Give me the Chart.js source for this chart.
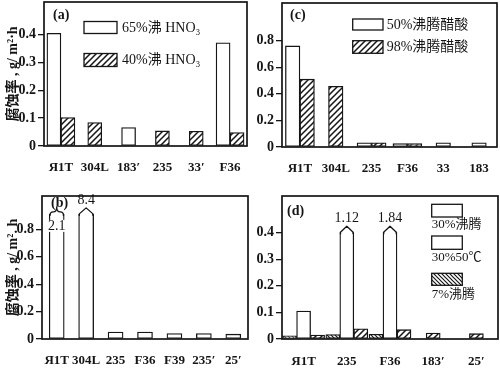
<!DOCTYPE html>
<html><head><meta charset="utf-8">
<script src="https://cdn.jsdelivr.net/npm/chart.js@4.4.1/dist/chart.umd.min.js"></script>
<style>
html,body{margin:0;padding:0;background:#fff;overflow:hidden}
#wrap{position:relative;width:500px;height:373px;background:#fff}
#wrap canvas{position:absolute}
</style></head><body>
<div id="wrap">
<canvas id="cA" width="250" height="186" style="left:0;top:0"></canvas>
<canvas id="cC" width="250" height="186" style="left:250px;top:0"></canvas>
<canvas id="cB" width="250" height="187" style="left:0;top:186px"></canvas>
<canvas id="cD" width="250" height="187" style="left:250px;top:186px"></canvas>
</div>
<script>
// ---------- data ----------
const catsA = ['Я1T', '304L', '183′', '235', '33′', 'F36'];
const hno3_65 = [0.404, null, 0.066, null, null, 0.370];
const hno3_40 = [0.102, 0.084, null, 0.054, 0.053, 0.048];
const ticksA = [0, 0.1, 0.2, 0.3, 0.4];

const catsB = ['Я1T', '304L', '235', 'F36', 'F39', '235′', '25′'];
const rateB = [2.1, 8.4, 0.05, 0.05, 0.04, 0.04, 0.035];
const ticksB = [0, 0.2, 0.4, 0.6, 0.8];

const catsC = ['Я1T', '304L', '235', 'F36', '33', '183'];
const acetic50 = [0.76, null, 0.032, 0.025, 0.032, 0.032];
const acetic98 = [0.51, 0.456, 0.032, 0.025, null, null];
const ticksC = [0, 0.2, 0.4, 0.6, 0.8];

const catsD = ['Я1T', '235', 'F36', '183′', '25′'];
const boil7 = [0.012, 0.017, 0.018, null, null];
const at50C30 = [0.105, 1.12, 1.84, null, null];
const boil30 = [0.015, 0.038, 0.035, 0.022, 0.020];
const ticksD = [0, 0.1, 0.2, 0.3, 0.4];

// ---------- styling ----------
const INK = '#151515';
const SERIF = "'Liberation Serif','Times New Roman','Noto Sans CJK SC',serif";
const tickFont = {family: SERIF, size: 14, weight: 'bold'};
const catFont = {family: SERIF, size: 13, weight: 'bold'};

function hatch(ctx, dir, size, lw) {
  const c = document.createElement('canvas');
  c.width = c.height = size;
  const g = c.getContext('2d');
  g.fillStyle = '#fff'; g.fillRect(0, 0, size, size);
  g.strokeStyle = INK; g.lineWidth = lw;
  g.beginPath();
  if (dir > 0) {
    g.moveTo(-1, size + 1); g.lineTo(size + 1, -1);
    g.moveTo(-size / 2 - 1, size / 2 + 1); g.lineTo(size / 2 + 1, -size / 2 - 1);
    g.moveTo(size / 2 - 1, size * 1.5 + 1); g.lineTo(size * 1.5 + 1, size / 2 - 1);
  } else {
    g.moveTo(-1, -1); g.lineTo(size + 1, size + 1);
    g.moveTo(-size / 2 - 1, size / 2 - 1); g.lineTo(size / 2 + 1, size * 1.5 + 1);
    g.moveTo(size / 2 - 1, -size / 2 - 1); g.lineTo(size * 1.5 + 1, size / 2 + 1);
  }
  g.stroke();
  return ctx.createPattern(c, 'repeat');
}

function drawBreaks(chart, b) {
  const ctx = chart.ctx;
  const bars = chart.getDatasetMeta(b.ds).data;
  ctx.save();
  b.values.forEach((v, i) => {
    if (v == null || v <= b.cap) return;
    const bar = bars[i];
    const p = bar.getProps(['x', 'y', 'width'], true);
    const bw = 1.3;
    const l = p.x - p.width / 2 + bw / 2, r = p.x + p.width / 2 - bw / 2, top = p.y + bw / 2;
    ctx.fillStyle = '#fff';
    ctx.fillRect(l + bw / 2, p.y - 1, r - l - bw, bw + 2);
    ctx.strokeStyle = INK; ctx.lineWidth = bw; ctx.lineJoin = 'round';
    ctx.beginPath();
    const isBrace = b.brace.includes(i);
    if (isBrace) {
      const w = r - l;
      ctx.moveTo(l, top + 1);
      ctx.quadraticCurveTo(l, top - 3, l + w * 0.25, top - 3);
      ctx.quadraticCurveTo(p.x, top - 3, p.x, top - 8);
      ctx.quadraticCurveTo(p.x, top - 3, r - w * 0.25, top - 3);
      ctx.quadraticCurveTo(r, top - 3, r, top + 1);
    } else {
      ctx.moveTo(l, top + 1); ctx.lineTo(l, top - 1);
      ctx.lineTo(p.x, top - 7);
      ctx.lineTo(r, top - 1); ctx.lineTo(r, top + 1);
    }
    ctx.stroke();
    ctx.font = '14px ' + SERIF;
    ctx.textAlign = 'center'; ctx.textBaseline = 'middle';
    const txt = String(v);
    if (isBrace) {
      const tw = ctx.measureText(txt).width;
      ctx.fillStyle = '#fff';
      ctx.fillRect(p.x - tw / 2 - 1, top + 5, tw + 2, 12);
      ctx.fillStyle = INK;
      ctx.fillText(txt, p.x, top + 11);
    } else {
      ctx.fillStyle = INK;
      ctx.fillText(txt, p.x, top - 15);
    }
  });
  ctx.restore();
}

function decor(o, pat) {
  return {
    id: 'decor',
    afterDatasetsDraw(chart) {
      const ctx = chart.ctx, a = chart.chartArea;
      if (o.breaks) drawBreaks(chart, o.breaks);
      ctx.save();
      ctx.strokeStyle = INK; ctx.lineWidth = 1.7;
      ctx.strokeRect(a.left, a.top, a.right - a.left, a.bottom - a.top);
      ctx.restore();
    },
    afterDraw(chart) {
      const ctx = chart.ctx;
      ctx.save();
      ctx.textBaseline = 'middle'; ctx.textAlign = 'left';
      ctx.fillStyle = INK;
      ctx.font = 'bold 14px ' + SERIF;
      ctx.fillText(o.letter, o.letterAt[0], o.letterAt[1]);
      (o.legend || []).forEach(it => {
        const text = it.text || chart.data.datasets[it.ds].label;
        ctx.fillStyle = pat[it.fill];
        ctx.fillRect(it.box[0], it.box[1], it.box[2], it.box[3]);
        ctx.strokeStyle = INK; ctx.lineWidth = 1.3;
        ctx.strokeRect(it.box[0], it.box[1], it.box[2], it.box[3]);
        ctx.fillStyle = INK;
        ctx.font = (it.size || 13) + 'px ' + SERIF;
        ctx.fillText(text, it.at[0], it.at[1]);
      });
      ctx.restore();
    }
  };
}

function makeChart(id, o) {
  const ctx = document.getElementById(id).getContext('2d');
  const pat = {white: '#fff', fwd: hatch(ctx, 1, 6, 1.5), back: hatch(ctx, -1, 4, 1.2)};
  const datasets = o.series.map(s => ({
    label: s.label, data: s.data,
    backgroundColor: pat[s.fill], borderColor: INK, borderWidth: 1.3,
    borderSkipped: false, barThickness: o.barW, skipNull: true
  }));
  return new Chart(ctx, {
    type: 'bar',
    data: {labels: o.cats, datasets},
    options: {
      responsive: false, animation: false, devicePixelRatio: 1, events: [],
      layout: {padding: o.pad},
      plugins: {legend: {display: false}, tooltip: {enabled: false}},
      scales: {
        x: {
          type: 'category', grid: {display: false}, border: {display: false},
          ticks: {font: catFont, color: INK, padding: o.xPad, maxRotation: 0, autoSkip: false},
          afterFit: s => { s.height = o.xH; s.paddingLeft = 0; s.paddingRight = 0; }
        },
        y: {
          type: 'linear', min: 0, max: o.yMax,
          grid: {drawOnChartArea: false, drawTicks: true, tickLength: 6, color: INK, lineWidth: 1.3},
          border: {display: false},
          ticks: {font: tickFont, color: INK, padding: 2,
                  callback: v => v === 0 ? '0' : Number(v).toFixed(1)},
          afterBuildTicks: s => { s.ticks = o.ticks.map(v => ({value: v})); },
          afterFit: s => { s.width = o.yW; s.paddingTop = 0; s.paddingBottom = 0; },
          title: o.yTitle
            ? {display: true, text: o.yTitle, color: INK,
               font: {family: SERIF, size: 14, weight: 'bold'}, padding: {top: 5, bottom: 0}}
            : {display: false}
        }
      }
    },
    plugins: [decor(o, pat)]
  });
}

// (a)
makeChart('cA', {
  cats: catsA, ticks: ticksA, yMax: 0.516, yW: 44, xH: 40, xPad: 6, barW: 14,
  pad: {left: 0, right: 3, top: 2, bottom: 0},
  yTitle: '腐蚀率 , g/ m²·h',
  series: [
    {label: '65%沸 HNO₃', data: hno3_65, fill: 'white'},
    {label: '40%沸 HNO₃', data: hno3_40, fill: 'fwd'}
  ],
  letter: '(a)', letterAt: [53, 15],
  legend: [
    {ds: 0, fill: 'white', box: [84, 21.5, 33, 12], at: [122, 28], size: 14},
    {ds: 1, fill: 'fwd', box: [84, 53.5, 33, 13], at: [122, 60], size: 14}
  ]
});

// (c)
makeChart('cC', {
  cats: catsC, ticks: ticksC, yMax: 1.083, yW: 32, xH: 39, xPad: 6, barW: 14.5,
  pad: {left: 0, right: 3, top: 3, bottom: 0},
  series: [
    {label: '50%沸腾醋酸', data: acetic50, fill: 'white'},
    {label: '98%沸腾醋酸', data: acetic98, fill: 'fwd'}
  ],
  letter: '(c)', letterAt: [40, 15],
  legend: [
    {ds: 0, fill: 'white', box: [102.7, 19, 30.3, 11], at: [136.7, 25], size: 14},
    {ds: 1, fill: 'fwd', box: [102.7, 40.7, 30.3, 12.6], at: [136.7, 47], size: 14}
  ]
});

// (b)
const capB = 0.91;
makeChart('cB', {
  cats: catsB, ticks: ticksB, yMax: 1.043, yW: 42, xH: 34, xPad: 6, barW: 15,
  pad: {left: 0, right: 2, top: 10, bottom: 0},
  yTitle: '腐蚀率 , g/ m². h',
  series: [
    {label: '腐蚀率', data: rateB.map(v => Math.min(v, capB)), fill: 'white'}
  ],
  letter: '(b)', letterAt: [51, 17],
  breaks: {ds: 0, values: rateB, cap: capB, brace: [0]}
});

// (d)
const capD = 0.40;
makeChart('cD', {
  cats: catsD, ticks: ticksD, yMax: 0.5376, yW: 32, xH: 34, xPad: 7, barW: 14,
  pad: {left: 0, right: 2, top: 10, bottom: 0},
  series: [
    {label: '7%沸腾', data: boil7, fill: 'back'},
    {label: '30%50℃', data: at50C30.map(v => v == null ? null : Math.min(v, capD)), fill: 'white'},
    {label: '30%沸腾', data: boil30, fill: 'fwd'}
  ],
  letter: '(d)', letterAt: [37, 25],
  breaks: {ds: 1, values: at50C30, cap: capD, brace: []},
  legend: [
    {ds: 2, fill: 'white', box: [181.7, 18.3, 30.6, 12.7], at: [181.7, 39], size: 13},
    {ds: 1, fill: 'white', box: [181.7, 50, 30.6, 13.3], at: [181.7, 72], size: 13},
    {ds: 0, fill: 'back', box: [181.7, 87.3, 30.6, 12], at: [181.7, 108.7], size: 13}
  ]
});
</script>
</body></html>
